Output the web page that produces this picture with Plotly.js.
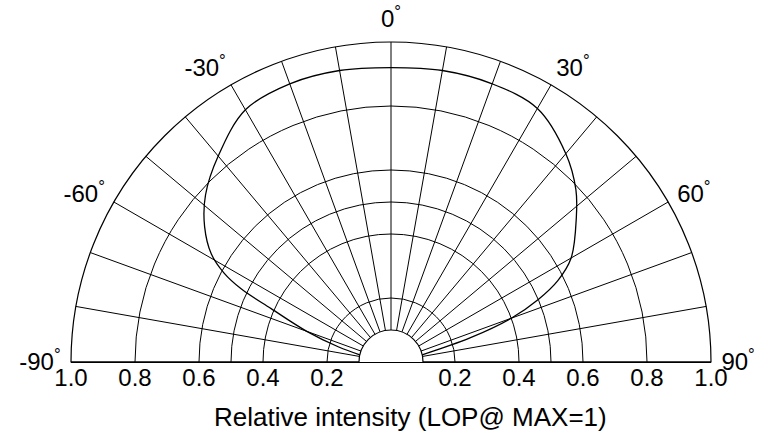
<!DOCTYPE html>
<html>
<head>
<meta charset="utf-8">
<script src="https://cdn.plot.ly/plotly-3.0.1.min.js"></script>
<style>html,body{margin:0;padding:0;background:#fff;}#chart{width:758px;height:434px;}</style>
</head>
<body>
<div id="chart"></div>
<script>
// Data
const curveTheta = [-77, -74, -70, -66, -64, -62, -59, -54, -48, -40, -30, -20, -10, 0, 10, 20, 30, 40, 47, 52, 60, 64, 67, 70, 73, 77];
const curveR     = [0.10, 0.17, 0.28, 0.41, 0.52, 0.59, 0.655, 0.72, 0.78, 0.84, 0.91, 0.925, 0.925, 0.92, 0.925, 0.925, 0.915, 0.85, 0.79, 0.735, 0.65, 0.58, 0.50, 0.40, 0.26, 0.10];
const angleTicks = [-90, -80, -70, -60, -50, -40, -30, -20, -10, 0, 10, 20, 30, 40, 50, 60, 70, 80, 90];
const angleLabels = ['-90<sup>°</sup>', '', '', '-60<sup>°</sup>', '', '', '-30<sup>°</sup>', '', '', '0<sup>°</sup>', '', '', '30<sup>°</sup>', '', '', '60<sup>°</sup>', '', '', '90<sup>°</sup>'];
const radialTicks = [0.2, 0.4, 0.5, 0.6, 0.8, 1.0];
const baseTicks  = [-1.0, -0.8, -0.6, -0.4, -0.2, 0.2, 0.4, 0.6, 0.8, 1.0];
const baseLabels = ['1.0', '0.8', '0.6', '0.4', '0.2', '0.2', '0.4', '0.6', '0.8', '1.0'];
const axisTitle = 'Relative intensity (LOP@ MAX=1)';

const FONT = 'Arial, "Liberation Sans", sans-serif';

const traces = [
  {
    type: 'scatterpolar', subplot: 'polar', mode: 'lines',
    theta: curveTheta, r: curveR,
    line: {color: '#000', width: 1.3, shape: 'spline', smoothing: 1},
    hoverinfo: 'skip', showlegend: false
  },
  {
    type: 'scatter', xaxis: 'x', yaxis: 'y', mode: 'lines',
    x: [], y: [], hoverinfo: 'skip', showlegend: false
  }
];

const layout = {
  width: 758, height: 434,
  margin: {l: 71, r: 47, t: 42, b: 72},
  paper_bgcolor: '#fff',
  plot_bgcolor: 'rgba(0,0,0,0)',
  showlegend: false,
  font: {family: FONT, color: '#000', size: 24},
  xaxis: {
    domain: [0, 1], range: [-1, 1], fixedrange: true,
    tickmode: 'array', tickvals: baseTicks, ticktext: baseLabels,
    showgrid: false, zeroline: false,
    showline: true, linecolor: '#000', linewidth: 1.2,
    ticks: '', ticklabelstandoff: -6,
    tickfont: {family: FONT, size: 24, color: '#000'}
  },
  yaxis: {domain: [0, 1], range: [0, 1], visible: false, fixedrange: true},
  polar: {
    domain: {x: [0, 1], y: [0, 1]},
    sector: [0, 180], hole: 0.1,
    bgcolor: 'rgba(0,0,0,0)',
    angularaxis: {
      direction: 'clockwise', rotation: 90, thetaunit: 'degrees',
      tickmode: 'array', tickvals: angleTicks, ticktext: angleLabels,
      showgrid: true, gridcolor: '#000', gridwidth: 1,
      showline: true, linecolor: '#000', linewidth: 1.2,
      ticks: 'outside', ticklen: 5, tickcolor: 'rgba(0,0,0,0)',
      tickfont: {family: FONT, size: 24, color: '#000'}
    },
    radialaxis: {
      range: [0.1, 1], angle: 0,
      tickmode: 'array', tickvals: radialTicks,
      showticklabels: false,
      showgrid: true, gridcolor: '#000', gridwidth: 1,
      showline: false, ticks: ''
    }
  },
  annotations: [{
    xref: 'paper', yref: 'paper', x: 0.53, y: -0.172,
    xanchor: 'center', yanchor: 'middle', showarrow: false,
    text: axisTitle, font: {family: FONT, size: 26, color: '#000'}
  }]
};

Plotly.newPlot('chart', traces, layout, {displayModeBar: false, staticPlot: true});
</script>
</body>
</html>
